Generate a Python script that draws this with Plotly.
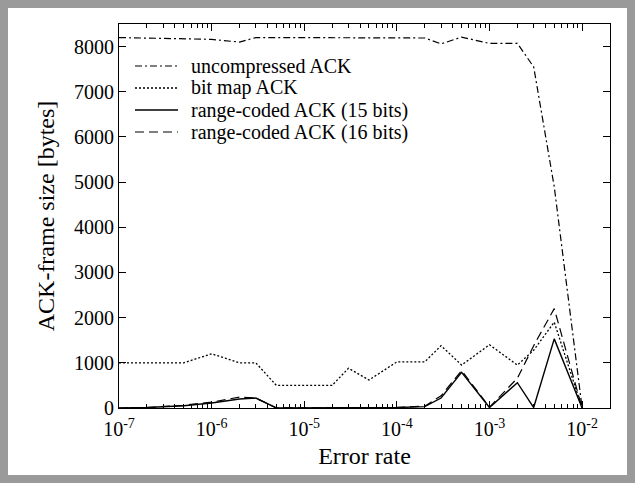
import plotly.graph_objects as go

# error rate sample points
error_rate = [1e-7, 2e-7, 5e-7, 1e-6, 2e-6, 3e-6, 5e-6, 1e-5, 2e-5, 3e-5, 5e-5,
              1e-4, 2e-4, 3e-4, 5e-4, 1e-3, 2e-3, 3e-3, 5e-3, 1e-2]

uncompressed = [8200, 8190, 8180, 8160, 8100, 8200, 8200, 8200, 8200, 8200, 8200,
                8200, 8190, 8060, 8210, 8070, 8070, 7550, 4900, 0]
bitmap = [1000, 1000, 1000, 1200, 1000, 1000, 500, 500, 500, 880, 620,
          1020, 1020, 1380, 950, 1400, 950, 1280, 1900, 0]
range15 = [0, 10, 50, 110, 200, 220, 0, 0, 0, 0, 0,
           10, 30, 220, 790, 10, 560, 10, 1530, 0]
range16 = [0, 10, 60, 130, 240, 220, 0, 0, 0, 0, 0,
           10, 40, 270, 830, 20, 660, 1380, 2200, 0]

series_names = ["uncompressed ACK", "bit map ACK",
                "range-coded ACK (15 bits)", "range-coded ACK (16 bits)"]

x_tickvals = [1e-7, 1e-6, 1e-5, 1e-4, 1e-3, 1e-2]
x_ticktext = ["10<sup>-7</sup>", "10<sup>-6</sup>", "10<sup>-5</sup>",
              "10<sup>-4</sup>", "10<sup>-3</sup>", "10<sup>-2</sup>"]
y_tickvals = [0, 1000, 2000, 3000, 4000, 5000, 6000, 7000, 8000]

# log minor ticks 2..9 in every decade
x_minor = [m * d for d in x_tickvals for m in range(2, 10) if m * d <= 2e-2]

FONT = "Liberation Serif, Times New Roman, serif"

W, H = 635, 483
L, R, T, B = 119, 25, 24, 75
pw, ph = W - L - R, H - T - B

styles = [("7px,3px,2px,3px", 1.2), ("2px,2px", 1.3), ("solid", 1.4), ("9px,5px", 1.2)]

fig = go.Figure()
shapes = [dict(type="rect", xref="paper", yref="paper",
               x0=(4 - L) / pw, x1=(W - 4 - L) / pw,
               y0=-(B - 4) / ph, y1=1 + (T - 4) / ph,
               line=dict(color="#9a9a9a", width=8), layer="below")]
annotations = []
for i, (name, vals, (dash, w)) in enumerate(zip(series_names,
                                                [uncompressed, bitmap, range15, range16],
                                                styles)):
    fig.add_trace(go.Scatter(x=error_rate, y=vals, mode="lines", name=name,
                             showlegend=False,
                             line=dict(color="black", width=w, dash=dash)))
    # hand-made legend row (gnuplot-style, tight spacing)
    ry = 1 - (42 + 22 * i) / ph
    shapes.append(dict(type="line", xref="paper", yref="paper",
                       x0=16 / pw, x1=59 / pw, y0=ry, y1=ry,
                       line=dict(color="black", width=w, dash=dash)))
    annotations.append(dict(xref="paper", yref="paper", x=70 / pw, y=ry,
                            xanchor="left", yanchor="middle", showarrow=False,
                            text=name, font=dict(size=20)))

fig.update_layout(
    width=W, height=H,
    margin=dict(l=L, r=R, t=T, b=B),
    paper_bgcolor="white", plot_bgcolor="white",
    font=dict(family=FONT, size=20, color="black"),
    showlegend=False,
    shapes=shapes,
    annotations=annotations,
)
fig.update_xaxes(
    type="log", range=[-7, -1.699], automargin=False,
    tickvals=x_tickvals, ticktext=x_ticktext, ticklabelstandoff=3,
    ticks="inside", ticklen=7, tickcolor="black",
    showline=True, linecolor="black", linewidth=1, mirror="ticks",
    showgrid=False, zeroline=False,
    minor=dict(tickvals=x_minor, ticks="inside", ticklen=4,
               tickcolor="black", showgrid=False),
    title=dict(text="Error rate", standoff=8),
)
fig.update_yaxes(
    range=[0, 8500], tickvals=y_tickvals, automargin=False,
    ticks="inside", ticklen=7, tickcolor="black",
    showline=True, linecolor="black", linewidth=1, mirror="ticks",
    showgrid=False, zeroline=False,
    title=dict(text="ACK-frame size [bytes]", standoff=12),
)

fig.write_html("out.html", config={"displayModeBar": False},
               post_script="document.body.style.margin='0';")
